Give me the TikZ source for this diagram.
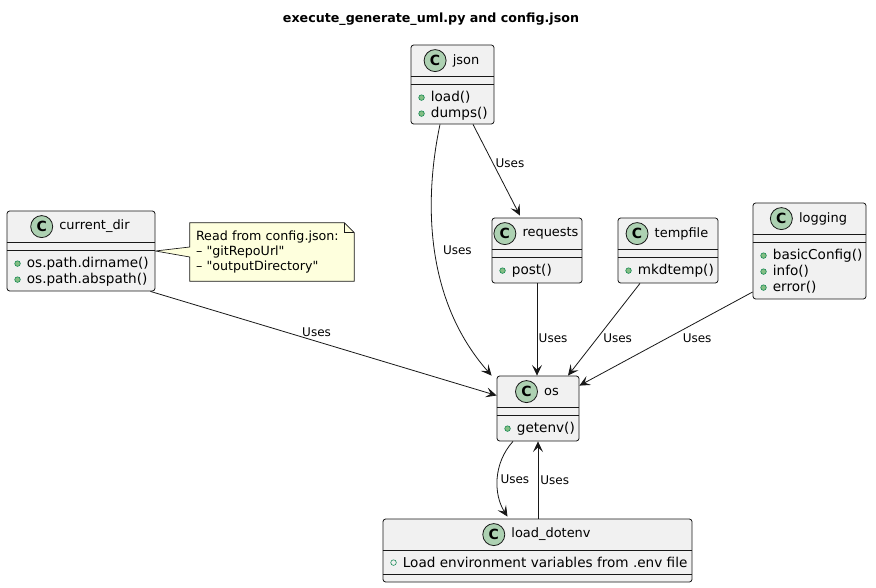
\documentclass[tikz,border=0pt]{standalone}
\usepackage{fontspec}
\setmainfont{DejaVu Sans}[Ligatures=TeXOff]
\usepackage{xcolor}
\usepackage{tikz}
\usetikzlibrary{positioning,arrows.meta,calc,backgrounds}
\definecolor{boxfill}{HTML}{F1F1F1}
\definecolor{boxline}{HTML}{181818}
\definecolor{spotfill}{HTML}{ADD1B2}
\definecolor{methfill}{HTML}{84BE84}
\definecolor{methline}{HTML}{038048}
\definecolor{notefill}{HTML}{FEFFDD}
% class header: spot circle + name, centred together
\newcommand{\classhead}[2]{%
  \node[cname] (#1-t) at ($(#1.north)+(13.5,16)$) {#2};
  \node[spot, left=4.5pt of #1-t] (#1-c) {C};}
\newcommand{\classseps}[1]{%
  \draw[sepline] ($(#1.north west)+(0,32)$) -- ($(#1.north east)+(0,32)$);
  \draw[sepline] ($(#1.north west)+(0,40)$) -- ($(#1.north east)+(0,40)$);}

\begin{document}
\begin{tikzpicture}[x=0.75pt, y=-0.75pt,
  umlbox/.style={draw=boxline, fill=boxfill, line width=0.6pt, rounded corners=2pt, inner sep=0pt},
  sepline/.style={draw=boxline, line width=0.6pt},
  spot/.style={circle, draw=boxline, fill=spotfill, line width=0.6pt, minimum size=16.5pt, inner sep=0pt, font=\fontsize{10.5}{12}\selectfont\bfseries},
  cname/.style={inner sep=0pt, font=\fontsize{9.7}{12}\selectfont},
  mdot/.style={circle, fill=methfill, draw=methline, line width=0.4pt, minimum size=4.2pt, inner sep=0pt, label distance=4.5pt},
  fdot/.style={mdot, fill=none},
  meth/.style={anchor=west, inner sep=0pt, font=\fontsize{10.2}{12}\selectfont, label={[mdot]left:{}}},
  fld/.style={anchor=west, inner sep=0pt, font=\fontsize{10.2}{12}\selectfont, label={[fdot]left:{}}},
  notetxt/.style={inner xsep=4.5pt, inner ysep=0pt, text width=114pt, minimum height=43.5pt, align=left, font=\fontsize{9.5}{11.25}\selectfont},
  notebox/.style={draw=boxline, fill=notefill, line width=0.5pt},
  uses/.style={draw=boxline, line width=0.6pt, -{Stealth[length=8pt, width=7.5pt, inset=3.5pt]}},
  lbl/.style={inner sep=0pt, font=\fontsize{9}{11}\selectfont},
  title/.style={inner sep=0pt, font=\fontsize{9.5}{12}\selectfont\bfseries}]
\begin{pgfonlayer}{background}
\fill[white] (0,0) rectangle (876,588);
\end{pgfonlayer}
\useasboundingbox (0,0) rectangle (876,588);

\node[title] (ttl) at (431,19) {execute\_generate\_uml.py and config.json};

% classes
\node[umlbox, minimum width=62.25pt, minimum height=59.25pt] (json) at (452.5,84.5) {};
\classhead{json}{json}
\classseps{json}
\node[meth] (json-m1) at ($(json.north west)+(20,53)$) {load()};
\node[meth] (json-m2) at ($(json.north west)+(20,69)$) {dumps()};

\node[umlbox, minimum width=67.5pt, minimum height=48.75pt] (requests) at (537,250.5) {};
\classhead{requests}{requests}
\classseps{requests}
\node[meth] (requests-m1) at ($(requests.north west)+(20,53)$) {post()};

\node[umlbox, minimum width=75pt, minimum height=48.75pt] (tempfile) at (668,250.5) {};
\classhead{tempfile}{tempfile}
\classseps{tempfile}
\node[meth] (tempfile-m1) at ($(tempfile.north west)+(20,53)$) {mkdtemp()};

\node[umlbox, minimum width=84.75pt, minimum height=72pt] (logging) at (809.5,251) {};
\classhead{logging}{logging}
\classseps{logging}
\node[meth] (logging-m1) at ($(logging.north west)+(20,53)$) {basicConfig()};
\node[meth] (logging-m2) at ($(logging.north west)+(20,69)$) {info()};
\node[meth] (logging-m3) at ($(logging.north west)+(20,85)$) {error()};

\node[umlbox, minimum width=111pt, minimum height=60pt] (curdir) at (81,251) {};
\classhead{curdir}{current\_dir}
\classseps{curdir}
\node[meth] (curdir-m1) at ($(curdir.north west)+(20,53)$) {os.path.dirname()};
\node[meth] (curdir-m2) at ($(curdir.north west)+(20,69)$) {os.path.abspath()};

\node[umlbox, minimum width=61.5pt, minimum height=48.75pt] (os) at (538,408.5) {};
\classhead{os}{os}
\classseps{os}
\node[meth] (os-m1) at ($(os.north west)+(20,53)$) {getenv()};

\node[umlbox, minimum width=231.75pt, minimum height=47.25pt] (dotenv) at (537.5,550.5) {};
\classhead{dotenv}{load\_dotenv}
\draw[sepline] ($(dotenv.north west)+(0,32)$) -- ($(dotenv.north east)+(0,32)$);
\draw[sepline] ($(dotenv.south west)+(0,-8)$) -- ($(dotenv.south east)+(0,-8)$);
\node[fld] (dotenv-f1) at ($(dotenv.north west)+(20,44)$) {Load environment variables from .env file};

% note
\node[notetxt] (cfgnote) at (272,252) {Read from config.json:\\ – "gitRepoUrl"\\ – "outputDirectory"};
\begin{pgfonlayer}{background}
\draw[notebox] (cfgnote.north west) -- ($(cfgnote.north east)+(-10,0)$) -- ($(cfgnote.north east)+(0,10)$)
  -- (cfgnote.south east) -- (cfgnote.south west) -- ($(cfgnote.west)+(0,5)$) -- (curdir.east)
  -- ($(cfgnote.west)+(0,-5)$) -- cycle;
\draw[notebox, fill=none] ($(cfgnote.north east)+(-10,0)$) -- ($(cfgnote.north east)+(-10,10)$) -- ($(cfgnote.north east)+(0,10)$);
\end{pgfonlayer}

% connectors
\draw[uses] ($(json.south)+(-12.5,0)$) .. controls +(-16,76) and +(-67,-76) .. ($(os.north west)+(-5,0)$)
  node[lbl, pos=0.5, right=6pt] {Uses};
\draw[uses] ($(json.south)+(20.5,0)$) -- ($(requests.north)+(-17,-2)$) node[lbl, pos=0.43, right=1.5pt] {Uses};
\draw[uses] (requests.south) -- (requests.south |- os.north) node[lbl, pos=0.59, right=1pt] {Uses};
\draw[uses] ($(tempfile.south)+(-28,0)$) -- ($(os.north)+(30,0)$) node[lbl, pos=0.59, right=4pt] {Uses};
\draw[uses] ($(logging.west)+(0,41)$) -- ($(os.north east)+(0,10)$) node[lbl, pos=0.49, right=11pt] {Uses};
\draw[uses] ($(curdir.south east)+(-5,0)$) -- ($(os.west)+(0,-13)$) node[lbl, pos=0.48, above=3pt] {Uses};
\draw[uses] ($(os.south)+(-25,0)$) .. controls +(-20,22) and +(-14,-22) .. ($(dotenv.north)+(-30,-2)$)
  node[lbl, pos=0.5, right=2pt] {Uses};
\draw[uses] (dotenv.north -| os.south) -- (os.south) node[lbl, pos=0.5, right=1.5pt] {Uses};
\end{tikzpicture}
\end{document}
